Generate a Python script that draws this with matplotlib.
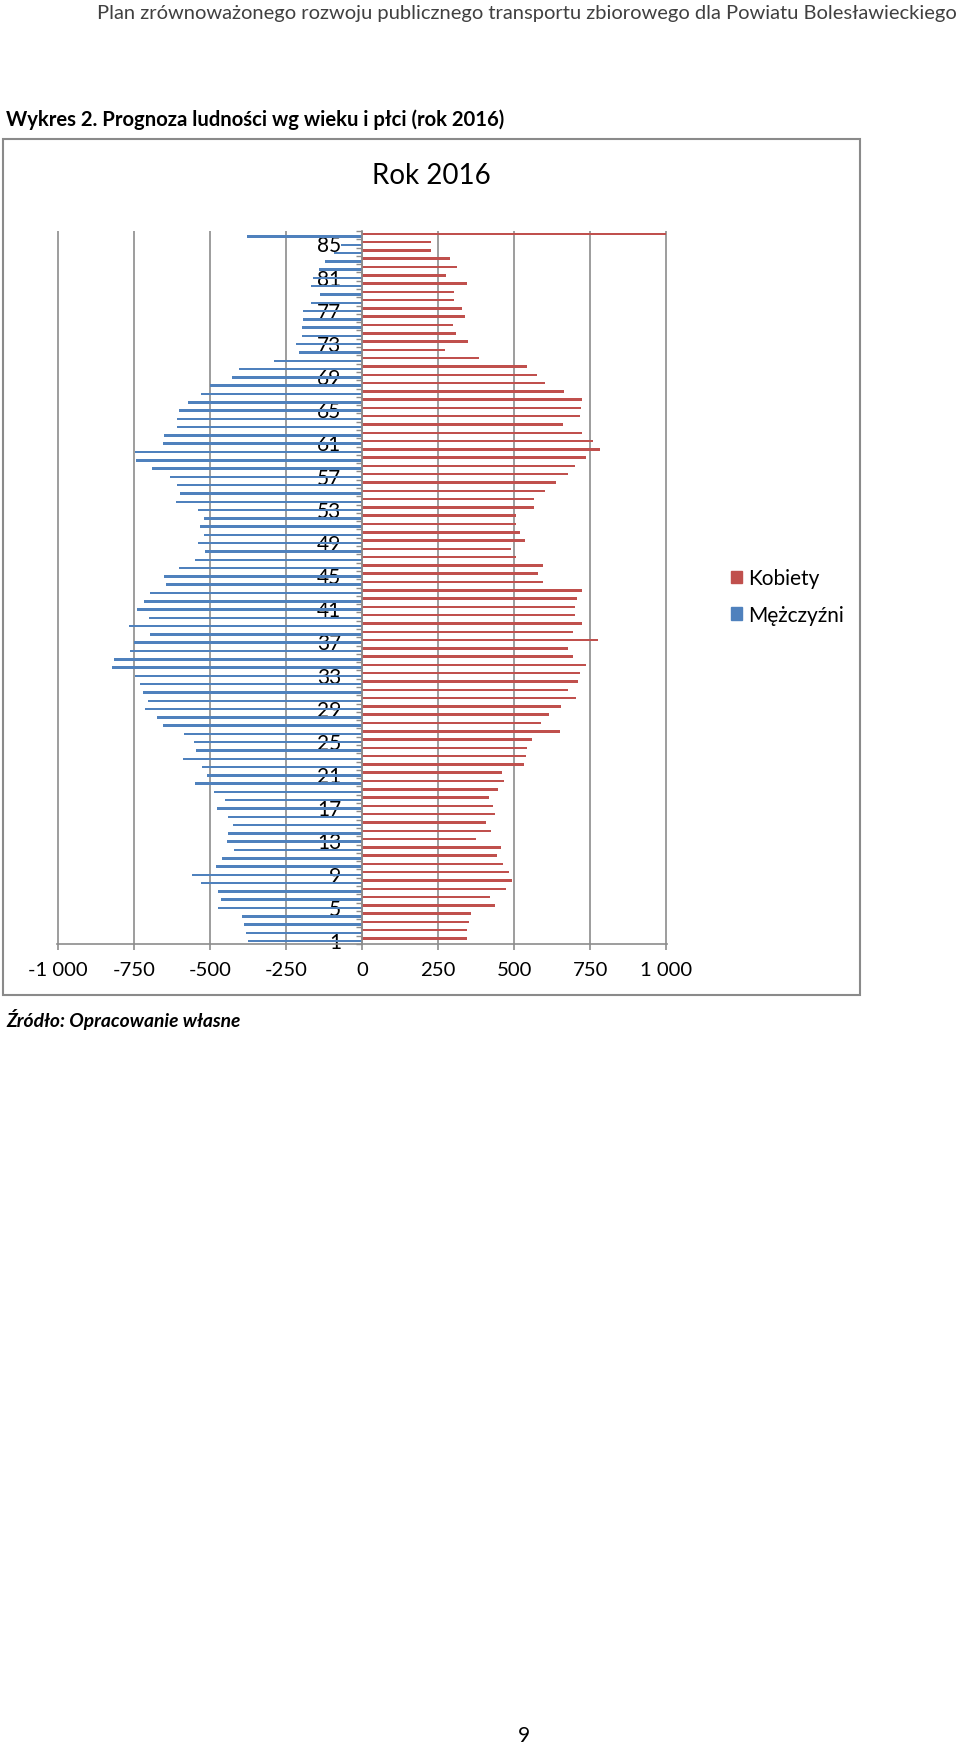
import numpy as np
import matplotlib
matplotlib.use("Agg")
import matplotlib.pyplot as plt
from matplotlib.patches import Rectangle, Patch

plt.rcParams['font.family'] = ['Lato', 'DejaVu Sans']

# wiek (kategorie 1..86), prognoza 2016
wiek = np.arange(1, 87)
kobiety = [346, 346, 353, 359, 436, 422, 472, 492, 483, 464,
           445, 456, 375, 425, 409, 436, 432, 418, 448, 468,
           462, 534, 540, 543, 559, 651, 588, 615, 655, 705,
           677, 710, 716, 735, 694, 678, 775, 694, 725, 702,
           702, 708, 724, 595, 578, 594, 507, 489, 535, 520,
           505, 505, 567, 567, 602, 638, 678, 702, 737, 783,
           761, 724, 660, 716, 721, 723, 665, 602, 576, 542,
           386, 273, 347, 308, 300, 338, 328, 302, 302, 344,
           277, 311, 290, 226, 226, 1000]
mezczyzni = [374, 382, 389, 395, 473, 465, 473, 529, 558, 480,
             460, 421, 445, 441, 425, 442, 476, 452, 487, 550,
             509, 527, 590, 547, 552, 587, 654, 674, 714, 705,
             720, 731, 745, 823, 814, 764, 751, 697, 767, 700,
             741, 718, 697, 646, 651, 601, 548, 516, 539, 521,
             532, 521, 538, 611, 597, 610, 630, 692, 743, 745,
             655, 651, 610, 610, 603, 571, 528, 501, 429, 403,
             290, 208, 217, 197, 197, 194, 194, 169, 137, 169,
             161, 140, 121, 91, 69, 379]
x_ticks = [-1000, -750, -500, -250, 0, 250, 500, 750, 1000]
x_labels = ['-1 000', '-750', '-500', '-250', '0', '250', '500', '750', '1 000']
y_ticks = list(range(1, 87, 4))

red = '#C0504D'
blue = '#4F81BD'
grey = '#8C8C8C'

W, H = 960, 1749
fig = plt.figure(figsize=(W / 100, H / 100), dpi=100)

def fx(px):
    return px / W

def fy(py):
    return 1 - py / H

# naglowek strony
fig.text(fx(957), fy(13), 'Plan zrównoważonego rozwoju publicznego transportu zbiorowego dla Powiatu Bolesławieckiego',
         ha='right', va='center', fontsize=14.5, color='#404040')
fig.text(fx(6), fy(120), 'Wykres 2. Prognoza ludności wg wieku i płci (rok 2016)',
         ha='left', va='center', fontsize=14.6, fontweight='bold', color='black')

# ramka wykresu
fig.add_artist(Rectangle((fx(3), fy(996)), fx(857), (996 - 140) / H, transform=fig.transFigure,
                         fill=False, edgecolor='#8a8a8a', lw=1.5))
fig.text(fx(431), fy(176), 'Rok 2016', ha='center', va='center', fontsize=20, color='black')

ax = fig.add_axes([fx(57), fy(945), 610 / W, 713 / H])
ax.barh(wiek + 0.16, kobiety, height=0.3, color=red, zorder=2)
ax.barh(wiek - 0.16, -np.array(mezczyzni), height=0.3, color=blue, zorder=2)

ax.set_xlim(-1003, 1003)
ax.set_ylim(0.5, 86.5)
ax.set_xticks(x_ticks)
ax.set_xticklabels(x_labels)
ax.set_yticks(y_ticks)
ax.set_yticklabels([str(v) for v in y_ticks])
ax.set_yticks(np.arange(0.5, 87, 1), minor=True)

ax.grid(axis='x', color=grey, lw=1.2, zorder=0)
ax.set_axisbelow(True)
for s in ['top', 'right']:
    ax.spines[s].set_visible(False)
ax.spines['left'].set_position(('data', 0))
ax.spines['left'].set_color(grey)
ax.spines['left'].set_linewidth(1.2)
ax.spines['bottom'].set_color(grey)
ax.spines['bottom'].set_linewidth(1.2)

ax.tick_params(axis='x', direction='out', length=4, width=1.2, color=grey, pad=8, labelsize=14.6)
ax.tick_params(axis='y', which='major', length=0, pad=15, labelsize=15)
ax.tick_params(axis='y', which='minor', direction='out', length=4, width=1, color=grey)

ax.legend(handles=[Patch(color=red, label='Kobiety'), Patch(color=blue, label='Mężczyźni')],
          loc='center left', bbox_to_anchor=(fx(731), fy(597.5)), bbox_transform=fig.transFigure,
          frameon=False, fontsize=15, handlelength=0.55, handleheight=0.55,
          handletextpad=0.25, labelspacing=0.8, borderpad=0, borderaxespad=0)

fig.text(fx(6), fy(1020), 'Źródło: Opracowanie własne', ha='left', va='center',
         fontsize=13.9, fontweight='bold', style='italic', color='black')
fig.text(fx(524), fy(1736), '9', ha='center', va='center', fontsize=15, color='black')

fig.savefig('out.png', dpi=100)
